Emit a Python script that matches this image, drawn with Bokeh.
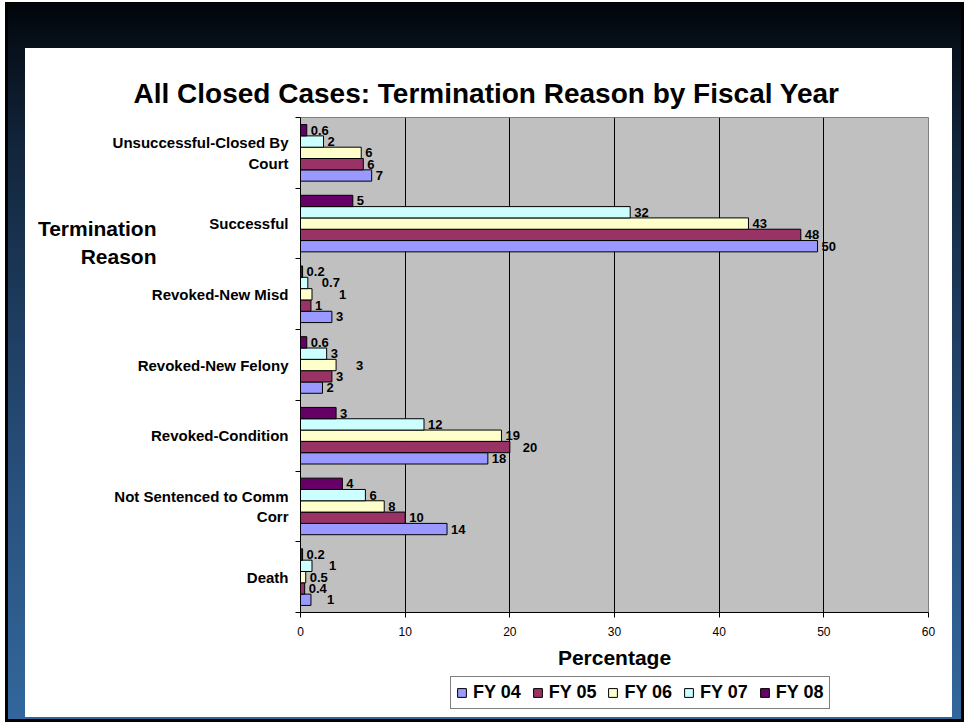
from bokeh.plotting import figure
from bokeh.layouts import column
from bokeh.models import (Range1d, FixedTicker, LinearAxis, LabelSet, Legend, LegendItem,
                          ColumnDataSource)
from bokeh.core.properties import value
from bokeh.embed import file_html
from bokeh.resources import INLINE

# ---------------- data ----------------
categories = ["Unsuccessful-Closed By Court", "Successful", "Revoked-New Misd",
              "Revoked-New Felony", "Revoked-Condition", "Not Sentenced to Comm Corr", "Death"]
category_labels = ["Unsuccessful-Closed By\nCourt", "Successful", "Revoked-New Misd",
                   "Revoked-New Felony", "Revoked-Condition", "Not Sentenced to Comm\nCorr", "Death"]
series = ["FY 04", "FY 05", "FY 06", "FY 07", "FY 08"]

fy04 = [6.8, 49.4, 3.0, 2.1, 17.9, 14.0, 1.0]
fy05 = [6.0, 47.8, 1.0, 3.0, 20.0, 10.0, 0.4]
fy06 = [5.8, 42.8, 1.1, 3.4, 19.2, 8.0, 0.5]
fy07 = [2.2, 31.5, 0.7, 2.5, 11.8, 6.2, 1.1]
fy08 = [0.6, 5.0, 0.2, 0.6, 3.4, 4.0, 0.2]

lab04 = ["7", "50", "3", "2", "18", "14", "1"]
lab05 = ["6", "48", "1", "3", "20", "10", "0.4"]
lab06 = ["6", "43", "1", "3", "19", "8", "0.5"]
lab07 = ["2", "32", "0.7", "3", "12", "6", "1"]
lab08 = ["0.6", "5", "0.2", "0.6", "3", "4", "0.2"]

x_ticks = [0, 10, 20, 30, 40, 50, 60]
title_text = "All Closed Cases: Termination Reason by Fiscal Year"
x_title = "Percentage"
y_title = "Termination\nReason"

values = [fy04, fy05, fy06, fy07, fy08]
labels = [lab04, lab05, lab06, lab07, lab08]

# ---------------- styling ----------------
colors = ["#9999FF", "#993366", "#FFFFCC", "#CCFFFF", "#660066"]
FONT = "Liberation Sans"
BAR_H = 0.16
label_nudge = {(2, 3): 10, (2, 2): 23, (3, 2): 16, (6, 3): 13, (6, 0): 12, (4, 1): 9}
Y_TITLE_POS = 4.73   # vertical position of the (horizontal) y-axis title, in category units

n = len(categories)
centers = [n - 1 - i for i in range(n)]          # category i -> y position (top first)

MAIN_H, LEG_H, W = 675, 48, 966

p = figure(width=W, height=MAIN_H, output_backend="svg", toolbar_location=None,
           x_range=Range1d(0, 60), y_range=Range1d(-0.5, n - 0.5),
           min_border_left=300, min_border_right=38, min_border_top=117,
           min_border_bottom=MAIN_H - 612)
p.border_fill_color = None
p.background_fill_color = "#C0C0C0"
p.outline_line_color = "#808080"
p.outline_line_width = 1

# title
p.title.text = title_text
p.title.text_font = FONT
p.title.text_font_size = "28px"
p.title.text_font_style = "bold"
p.title.text_color = "#000000"
p.title.align = "left"
p.title.offset = -167
p.title.standoff = 18

# x axis
p.xaxis.ticker = FixedTicker(ticks=x_ticks)
p.xaxis.major_tick_out = 5
p.xaxis.major_tick_in = 0
p.xaxis.minor_tick_line_color = None
p.xaxis.axis_line_color = "#000000"
p.xaxis.major_tick_line_color = "#000000"
p.xaxis.major_label_text_font = FONT
p.xaxis.major_label_text_font_size = "12px"
p.xaxis.major_label_text_color = "#000000"
p.xaxis.major_label_standoff = 9
p.xaxis.axis_label = x_title
p.xaxis.axis_label_text_font = FONT
p.xaxis.axis_label_text_font_size = "21px"
p.xaxis.axis_label_text_font_style = "bold"
p.xaxis.axis_label_text_color = "#000000"
p.xaxis.axis_label_standoff = 7

# y axis: category names at centres, tick marks at category boundaries
p.yaxis.ticker = FixedTicker(ticks=centers,
                             minor_ticks=[c - 0.5 for c in centers] + [n - 0.5])
p.yaxis.major_label_overrides = {c: t for c, t in zip(centers, category_labels)}
p.yaxis.major_tick_line_color = None
p.yaxis.major_tick_out = 0
p.yaxis.major_tick_in = 0
p.yaxis.minor_tick_out = 5
p.yaxis.minor_tick_in = 0
p.yaxis.minor_tick_line_color = "#000000"
p.yaxis.axis_line_color = "#000000"
p.yaxis.major_label_text_font = FONT
p.yaxis.major_label_text_font_size = "15px"
p.yaxis.major_label_text_font_style = "bold"
p.yaxis.major_label_text_color = "#000000"
p.yaxis.major_label_standoff = 7

# y title: drawn as the single label of an outer, line-less axis
p.extra_y_ranges = {"ytitle": Range1d(-0.5, n - 0.5)}
title_axis = LinearAxis(y_range_name="ytitle", ticker=FixedTicker(ticks=[Y_TITLE_POS]),
                        major_label_overrides={Y_TITLE_POS: y_title},
                        axis_line_color=None, major_tick_line_color=None,
                        minor_tick_line_color=None, major_tick_out=0, major_tick_in=0,
                        major_label_standoff=-47,
                        major_label_text_font=FONT, major_label_text_font_size="21px",
                        major_label_text_font_style="bold", major_label_text_color="#000000")
p.add_layout(title_axis, "left")

p.xgrid.ticker = FixedTicker(ticks=x_ticks)
p.xgrid.grid_line_color = "#000000"
p.xgrid.grid_line_width = 1
p.ygrid.grid_line_color = None

# bars + data labels
for k, (vals, labs) in enumerate(zip(values, labels)):
    ys = [centers[i] + (k - 2) * BAR_H for i in range(n)]
    dx = [4 + label_nudge.get((i, k), 0) for i in range(n)]
    src = ColumnDataSource(dict(y=ys, right=vals, lab=labs, dx=dx))
    p.hbar(y="y", left=0, right="right", height=BAR_H, source=src,
           fill_color=colors[k], line_color="#000000", line_width=1)
    p.add_layout(LabelSet(x="right", y="y", text="lab", x_offset="dx", source=src,
                          text_font=value(FONT), text_font_size="13px",
                          text_font_style="bold", text_color="#000000",
                          text_baseline="middle", text_align="left"))

# legend strip (own small figure so the legend is not clipped by the main frame);
# its frame is aligned with the main frame by the column layout (x from 300 to 928)
pl = figure(width=W, height=LEG_H, output_backend="svg", toolbar_location=None,
            x_range=Range1d(0, 1), y_range=Range1d(0, 1),
            x_axis_type=None, y_axis_type=None, min_border=0)
pl.border_fill_color = None
pl.background_fill_color = None
pl.outline_line_color = None
pl.xgrid.visible = False
pl.ygrid.visible = False
# key swatches: one zero-length bar each, placed outside the visible range
key_renderers = [pl.hbar(y=[-5], left=[0], right=[0], height=0.5, fill_color=c,
                         line_color="#000000", line_width=1) for c in colors]
legend = Legend(items=[LegendItem(label=s, renderers=[r]) for s, r in zip(series, key_renderers)],
                orientation="horizontal", location=(150, LEG_H - (709 - MAIN_H)),
                label_text_font=FONT, label_text_font_size="18px",
                label_text_font_style="bold", label_text_color="#000000",
                glyph_width=11, glyph_height=11, label_standoff=6, spacing=11,
                padding=5, margin=0, label_height=20,
                border_line_color="#000000", border_line_width=1,
                background_fill_color="#FFFFFF", background_fill_alpha=1.0)
pl.add_layout(legend)

page = column(p, pl, spacing=0)
page.styles = {
    "background": ("linear-gradient(#ffffff,#ffffff) 25px 48px / 927px 669px no-repeat, "
                   "linear-gradient(to bottom, #01050a 0%, #07101b 6%, #12253b 20%, "
                   "#1e3d60 45%, #29527f 70%, #33679c 100%) 8px 3px / 953px 716px no-repeat, "
                   "linear-gradient(#000000,#000000) 5px 2px / 959px 720px no-repeat, "
                   "#ffffff"),
}

open("out.html", "w").write(file_html(page, INLINE))
